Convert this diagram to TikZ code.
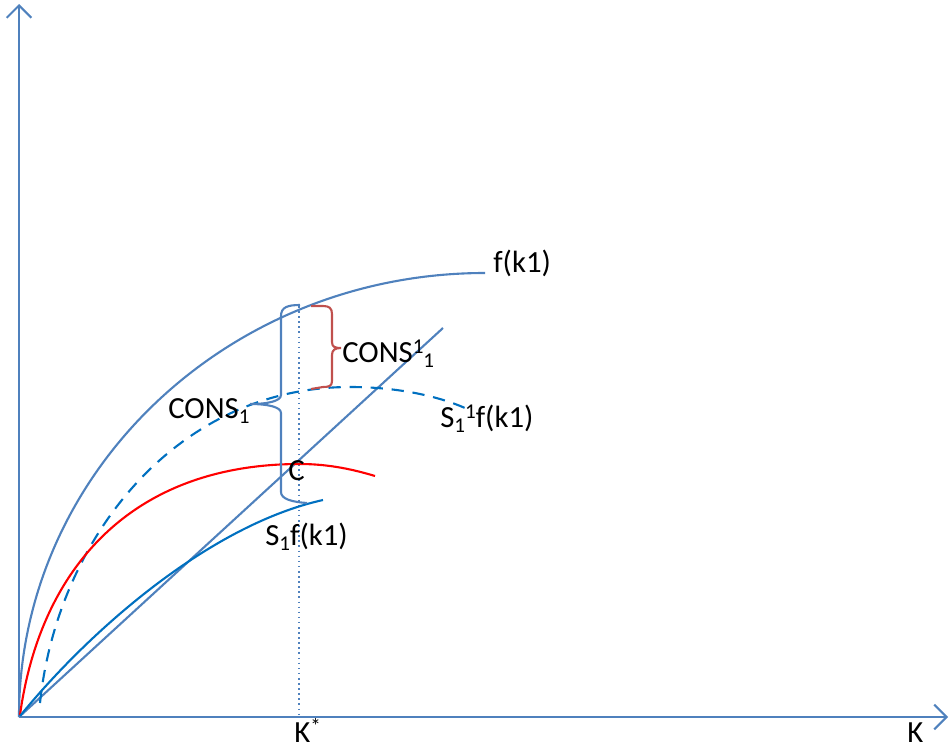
\documentclass[tikz,border=0pt]{standalone}
\usepackage{fontspec}
\setmainfont{Carlito}
\usetikzlibrary{arrows.meta}
\definecolor{axblue}{RGB}{79,129,189}
\definecolor{brblue}{RGB}{0,112,192}
\definecolor{brred}{RGB}{192,80,77}
\newcommand{\lo}[1]{\raisebox{-3.2pt}{\fontsize{12}{12}\selectfont #1}}
\newcommand{\hi}[1]{\raisebox{5pt}{\fontsize{12}{12}\selectfont #1}}
\tikzset{
  axis/.style={draw=axblue, line width=1.2pt, -{Straight Barb[length=7pt,width=14pt,line width=1.2pt]}},
  curveA/.style={draw=axblue, line width=1.2pt},
  curveB/.style={draw=brblue, line width=1.2pt},
  curveR/.style={draw=red, line width=1.2pt},
  lab/.style={font=\fontsize{17.5}{20}\selectfont, inner sep=0pt, text=black, anchor=base west}
}
\begin{document}
\begin{tikzpicture}[x=0.02cm,y=-0.02cm]
\useasboundingbox (0,0) rectangle (950,747);
\coordinate (O) at (19,717);
\coordinate (ytop) at (19,4);
\coordinate (xend) at (948,717);
\coordinate (Kt) at (299,306);
\coordinate (Kb) at (299,717);
% axes
\draw[axis] (O) -- (ytop);
\draw[axis] (O) -- (xend);
% dotted K*
\draw[axblue, line width=0.9pt, dotted] (Kt) -- (Kb);
% 45 degree line
\coordinate (Lend) at (443,328);
\draw[curveA] (O) -- (Lend);
% f(k1)
\draw[curveA] (O) arc[start angle=180, end angle=270, x radius=466, y radius=444];
% dashed S1^1 f(k1)
\draw[curveB, dash pattern=on 7pt off 5pt] (40,703) .. controls (57,540) and (175,387) .. (350,387) .. controls (400,387) and (440,397) .. (465,408);
% red curve
\draw[curveR] (20,715) .. controls (40,570) and (130,464) .. (300,464) .. controls (330,464) and (355,470) .. (375,476);
% S1 f(k1)
\draw[curveB] (20,716) .. controls (90,630) and (210,525) .. (323,500);
% blue brace
\draw[axblue, line width=1.2pt] (300,305) .. controls (288,305) and (281,307) .. (281,316) -- (281,395) .. controls (281,401) and (268,404) .. (250,404) .. controls (268,404) and (281,407) .. (281,413) -- (281,492) .. controls (281,499) and (292,502) .. (307,503);
% red brace
\draw[brred, line width=1.2pt] (311,306) -- (323,306) .. controls (329,306) and (332,308) .. (332,314) -- (332,342) .. controls (332,347) and (335,348) .. (341,348) .. controls (335,348) and (332,350) .. (332,355) -- (332,381) .. controls (332,386) and (329,387) .. (323,387) -- (311,389);
% labels
\node[lab] (fk) at (493,272) {f(k1)};
\node[lab] (cons11) at (342,362) {CONS\hi{1}\lo{1}};
\node[lab] (cons1) at (168,418) {CONS\lo{1}};
\node[lab] (s11) at (440,427) {S\lo{1}\hi{1}f(k1)};
\node[lab] (C) at (288,480) {C};
\node[lab] (s1) at (265,545) {S\lo{1}f(k1)};
\node[lab] (Kstar) at (294,742) {K\hi{*}};
\node[lab] (K) at (907,742) {K};
\end{tikzpicture}
\end{document}
